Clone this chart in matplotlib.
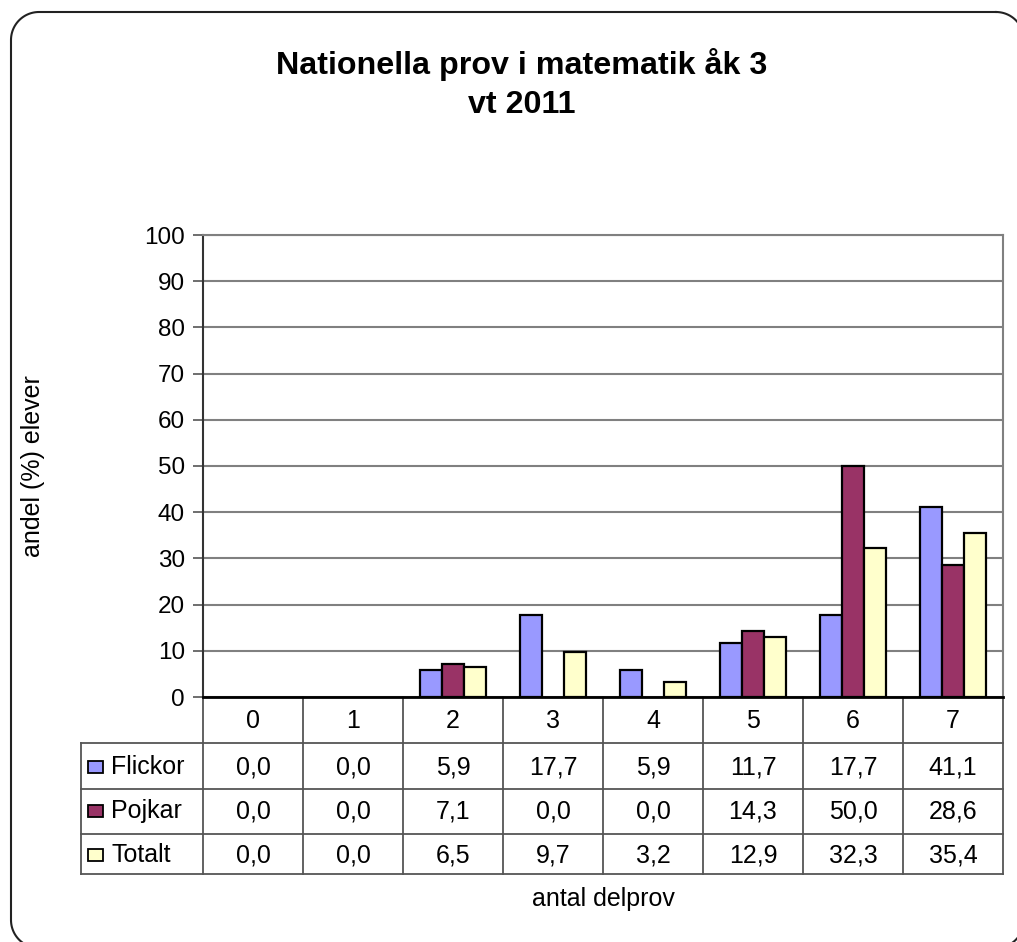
import matplotlib
matplotlib.use("Agg")
import matplotlib.pyplot as plt
from matplotlib.patches import Rectangle
from matplotlib.lines import Line2D
from matplotlib.transforms import blended_transform_factory
import numpy as np

plt.rcParams['font.family'] = ['Liberation Sans', 'DejaVu Sans']

categories = ["0", "1", "2", "3", "4", "5", "6", "7"]
series_names = ["Flickor", "Pojkar", "Totalt"]
flickor = [0.0, 0.0, 5.9, 17.7, 5.9, 11.7, 17.7, 41.1]
pojkar = [0.0, 0.0, 7.1, 0.0, 0.0, 14.3, 50.0, 28.6]
totalt = [0.0, 0.0, 6.5, 9.7, 3.2, 12.9, 32.3, 35.4]
series_values = [flickor, pojkar, totalt]
colors = ["#9999FF", "#993366", "#FFFFCC"]
yticks = [0, 10, 20, 30, 40, 50, 60, 70, 80, 90, 100]
title = "Nationella prov i matematik åk 3\nvt 2011"
xlabel = "antal delprov"
ylabel = "andel (%) elever"

W, H = 1017, 942
fig = plt.figure(figsize=(W / 100, H / 100), dpi=100)

# background axes in pixel coordinates (y from top) for the rounded frame
bg = fig.add_axes([0, 0, 1, 1])
bg.set_xlim(0, W)
bg.set_ylim(H, 0)
bg.axis("off")

def rounded_rect(x0, y0, x1, y1, r, n=30):
    pts = []
    corners = [(x1 - r, y0 + r, -90, 0), (x1 - r, y1 - r, 0, 90),
               (x0 + r, y1 - r, 90, 180), (x0 + r, y0 + r, 180, 270)]
    for cx, cy, a0, a1 in corners:
        a = np.radians(np.linspace(a0, a1, n))
        pts.extend(zip(cx + r * np.cos(a), cy + r * np.sin(a)))
    pts.append(pts[0])
    return np.array(pts)

fr = rounded_rect(11, 12, 1024, 948, 28)
bg.plot(fr[:, 0], fr[:, 1], color="#222222", linewidth=1.5, clip_on=True)

L, R, T, B = 203, 1003, 235, 697
ax = fig.add_axes([L / W, 1 - B / H, (R - L) / W, (B - T) / H])
ax.set_xlim(-0.5, len(categories) - 0.5)
ax.set_ylim(0, 100)

x = np.arange(len(categories))
bw = 0.22
for i, (vals, c) in enumerate(zip(series_values, colors)):
    v = np.array(vals)
    mask = v > 0
    ax.bar(x[mask] + (i - 1) * bw, v[mask], width=bw, color=c,
           edgecolor="black", linewidth=1.6, zorder=3)

FS = 18
ax.set_yticks(yticks)
ax.set_yticklabels([str(t) for t in yticks], fontsize=17.5)
ax.tick_params(axis="y", length=7, width=1.2, color="#555555", pad=6)
ax.set_xticks([])
ax.grid(axis="y", color="#808080", linewidth=1.5, zorder=0)
ax.set_axisbelow(True)
for s in ["top", "right"]:
    ax.spines[s].set_color("#808080")
    ax.spines[s].set_linewidth(1.5)
ax.spines["left"].set_color("#333333")
ax.spines["left"].set_linewidth(1.5)
ax.spines["bottom"].set_color("black")
ax.spines["bottom"].set_linewidth(2)

# data table
def ay(ypix):
    return -(ypix - B) / (B - T)

colw = (R - L) / len(categories)
def ax_x(xpix):
    return (xpix - L) / colw - 0.5

tr = blended_transform_factory(ax.transData, ax.transAxes)
rows_y = [743, 789, 834, 874]
line_kw = dict(color="#555555", linewidth=1.3, clip_on=False)
for yp in rows_y:
    ax.add_line(Line2D([ax_x(81), len(categories) - 0.5], [ay(yp), ay(yp)],
                       transform=tr, **line_kw))
for k in range(len(categories) + 1):
    ax.add_line(Line2D([k - 0.5, k - 0.5], [ay(B), ay(874)], transform=tr, **line_kw))
ax.add_line(Line2D([ax_x(81), ax_x(81)], [ay(743), ay(874)], transform=tr, **line_kw))

for k, c in enumerate(categories):
    ax.text(k, ay(721), c, transform=tr, ha="center", va="center", fontsize=FS)

row_centers = [767, 811, 855]
for name, vals, col, yc in zip(series_names, series_values, colors, row_centers):
    ax.add_patch(Rectangle((ax_x(88), ay(yc + 6)), ax_x(103) - ax_x(88), ay(yc - 6) - ay(yc + 6),
                           transform=tr, facecolor=col, edgecolor="black",
                           linewidth=1.3, clip_on=False))
    ax.text(ax_x(111), ay(yc), name, transform=tr, ha="left", va="center", fontsize=FS)
    for k, v in enumerate(vals):
        ax.text(k, ay(yc), f"{v:.1f}".replace(".", ","), transform=tr,
                ha="center", va="center", fontsize=FS)

fig.text(603 / W, 1 - 899 / H, xlabel, ha="center", va="center", fontsize=FS)
fig.text(33 / W, 1 - 466 / H, ylabel, ha="center", va="center", rotation=90, fontsize=FS)
fig.text(522 / W, 1 - 84 / H, title, ha="center", va="center", fontsize=23.2,
         fontweight="bold", linespacing=1.38)

fig.savefig("out.png", dpi=100, facecolor="white")
